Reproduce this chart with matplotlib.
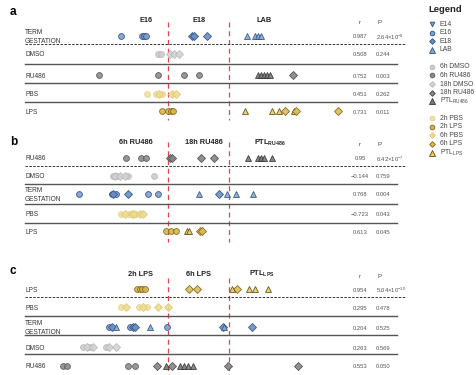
import matplotlib.pyplot as plt

plt.rcParams['font.family'] = ['Liberation Sans', 'DejaVu Sans']
plt.rcParams['mathtext.default'] = 'regular'

# marker style per group: (marker, face, edge, size)
styles = {
    'E14': ('v', '#7b9fcf', '#2d4f80', 4.2),
    'E16': ('o', '#7b9fcf', '#2d4f80', 4.2),
    'E18': ('D', '#6a8fc4', '#2d4f80', 3.6),
    'LAB': ('^', '#86a8d4', '#2d4f80', 4.8),
    '6h DMSO': ('o', '#cdcdcd', '#b5b5b5', 4.2),
    '6h RU486': ('o', '#8c8c8c', '#555555', 4.2),
    '18h DMSO': ('D', '#d2d2d2', '#b8b8b8', 3.6),
    '18h RU486': ('D', '#858585', '#4a4a4a', 3.6),
    'PTL_RU486': ('^', '#7a7a7a', '#333333', 4.8),
    '2h PBS': ('o', '#f0e2a2', '#e2cf85', 4.2),
    '2h LPS': ('o', '#d6b54c', '#7d6418', 4.2),
    '6h PBS': ('D', '#eedc8c', '#dcc878', 3.6),
    '6h LPS': ('D', '#dcbd55', '#7a6214', 3.6),
    'PTL_LPS': ('^', '#e8cf66', '#5a4810', 4.8),
}

# ---- panel a ----
a_term = [('E16', [121, 142, 144, 146]), ('E18', [192, 194, 207]), ('LAB', [247, 255, 258, 261])]
a_dmso = [('6h DMSO', [158, 161]), ('18h DMSO', [170, 174, 179])]
a_ru486 = [('6h RU486', [99, 158, 184, 199]), ('PTL_RU486', [258, 261, 264, 267, 270]), ('18h RU486', [293])]
a_pbs = [('2h PBS', [147, 156, 162]), ('6h PBS', [159, 172, 176])]
a_lps = [('2h LPS', [162, 168, 171, 173]), ('PTL_LPS', [245, 272, 279, 294]), ('6h LPS', [285, 296, 338])]

# ---- panel b ----
b_ru486 = [('6h RU486', [126, 141, 146]), ('18h RU486', [170, 172, 201, 214]), ('PTL_RU486', [248, 258, 261, 264, 272])]
b_dmso = [('6h DMSO', [113, 117, 128, 154]), ('18h DMSO', [115, 120, 125])]
b_term = [('E16', [79, 112, 116, 148, 158]), ('E18', [113, 128, 219]), ('LAB', [199, 227, 236, 253])]
b_pbs = [('2h PBS', [121, 129, 136]), ('6h PBS', [125, 132, 134, 140, 143])]
b_lps = [('2h LPS', [166, 171, 176]), ('PTL_LPS', [187, 189]), ('6h LPS', [200, 202])]

# ---- panel c ----
c_lps = [('2h LPS', [137, 140, 142, 145]), ('6h LPS', [189, 197, 237]), ('PTL_LPS', [232, 249, 255, 268])]
c_pbs = [('2h PBS', [121, 139, 147]), ('6h PBS', [126, 143, 158, 168])]
c_term = [('E16', [109, 130, 167]), ('E18', [112, 133, 135, 223, 252]), ('LAB', [116, 150, 224])]
c_dmso = [('6h DMSO', [83, 90, 106]), ('18h DMSO', [87, 93, 109, 116])]
c_ru486 = [('6h RU486', [63, 67, 128, 135]), ('18h RU486', [157, 172, 228, 298]), ('PTL_RU486', [166, 180, 184, 188, 193])]

a_labels = ['TERM\nGESTATION', 'DMSO', 'RU486', 'PBS', 'LPS']
b_labels = ['RU486', 'DMSO', 'TERM\nGESTATION', 'PBS', 'LPS']
c_labels = ['LPS', 'PBS', 'TERM\nGESTATION', 'DMSO', 'RU486']

a_r = ['0.987', '0.508', '0.752', '0.451', '0.731']
a_p = ['2.64×10$^{-8}$', '0.244', '0.003', '0.262', '0.011']
b_r = ['0.95', '\u22120.144', '0.768', '\u22120.723', '0.613']
b_p = ['6.42×10$^{-7}$', '0.759', '0.004', '0.043', '0.045']
c_r = ['0.954', '0.295', '0.204', '0.263', '0.553']
c_p = ['5.04×10$^{-10}$', '0.478', '0.525', '0.569', '0.050']

a_heads = ['E16', 'E18', 'LAB']
b_heads = ['6h RU486', '18h RU486', 'PTL$_{RU486}$']
c_heads = ['2h LPS', '6h LPS', 'PTL$_{LPS}$']

legend_groups = [['E14', 'E16', 'E18', 'LAB'],
                 ['6h DMSO', '6h RU486', '18h DMSO', '18h RU486', 'PTL_RU486'],
                 ['2h PBS', '2h LPS', '6h PBS', '6h LPS', 'PTL_LPS']]

W, H = 476, 375
fig = plt.figure(figsize=(W / 100, H / 100), dpi=100)
ax = fig.add_axes([0, 0, 1, 1])
ax.set_xlim(0, W)
ax.set_ylim(H, 0)
ax.axis('off')

panels = [
    # letter, rows, labels, r, p, heads, head x, row y, separators y, header y, vline span, letter y
    ('a', [a_term, a_dmso, a_ru486, a_pbs, a_lps], a_labels, a_r, a_p, a_heads, [146, 199, 264],
     [36, 54, 75, 94, 111], [44, 64, 83, 102], 20, (22, 120), 12),
    ('b', [b_ru486, b_dmso, b_term, b_pbs, b_lps], b_labels, b_r, b_p, b_heads, [136, 204, 270],
     [158, 176, 194, 214, 231], [166, 184, 204, 223], 143, (142, 242), 142),
    ('c', [c_lps, c_pbs, c_term, c_dmso, c_ru486], c_labels, c_r, c_p, c_heads, [140, 198, 262],
     [289, 307, 327, 347, 366], [297, 316, 335, 354], 274, (278, 375), 271),
]

for letter, rows, labels, rs, ps, heads, hxs, ys, seps, hy, vspan, ly in panels:
    ax.text(10, ly, letter, fontsize=8.5, fontweight='bold', va='center', ha='left')
    for hx, h in zip(hxs, heads):
        ax.text(hx, hy, h, fontsize=5.3, fontweight='bold', ha='center', va='center', color='#222222')
    ax.text(360, hy + 2, 'r', fontsize=4.5, ha='center', va='center', color='#444444')
    ax.text(380, hy + 2, 'P', fontsize=4.5, ha='center', va='center', color='#444444')
    # separators
    ax.plot([25, 405], [seps[0], seps[0]], color='#333333', lw=0.7, ls=(0, (2.5, 1.5)))
    for s in seps[1:]:
        ax.plot([25, 397], [s, s], color='#555555', lw=1.0)
    # red dashed time boundaries
    for vx in (168, 229):
        ax.plot([vx, vx], vspan, color='#e0454a', lw=0.9, ls=(0, (4, 3)), zorder=1)
    for row, lab, y, r, p in zip(rows, labels, ys, rs, ps):
        ax.text(25, y + 1, lab, fontsize=4.7, ha='left', va='center', color='#333333', linespacing=1.35)
        ax.text(360, y + 1, r, fontsize=4.2, ha='center', va='center', color='#555555')
        ax.text(376, y + 1, p, fontsize=4.2, ha='left', va='center', color='#555555')
        for grp, xs in row:
            m, fc, ec, ms = styles[grp]
            ax.plot(xs, [y] * len(xs), ls='none', marker=m, mfc=fc, mec=ec,
                    ms=ms, mew=0.6, alpha=0.9, zorder=3)

# legend, laid out by hand
ax.text(428, 9, 'Legend', fontsize=6.8, fontweight='bold', ha='left', va='center', color='#222222')
ly = 24
for gi, group in enumerate(legend_groups):
    if gi > 0:
        ly += 8.4
    for g in group:
        m, fc, ec, ms = styles[g]
        ax.plot([432], [ly], ls='none', marker=m, mfc=fc, mec=ec, ms=ms * 0.8, mew=0.6)
        lab = g.replace('PTL_RU486', 'PTL$_{RU486}$').replace('PTL_LPS', 'PTL$_{LPS}$')
        ax.text(440, ly, lab, fontsize=4.9, ha='left', va='center', color='#444444')
        ly += 8.6

fig.savefig('out.png', dpi=100)
